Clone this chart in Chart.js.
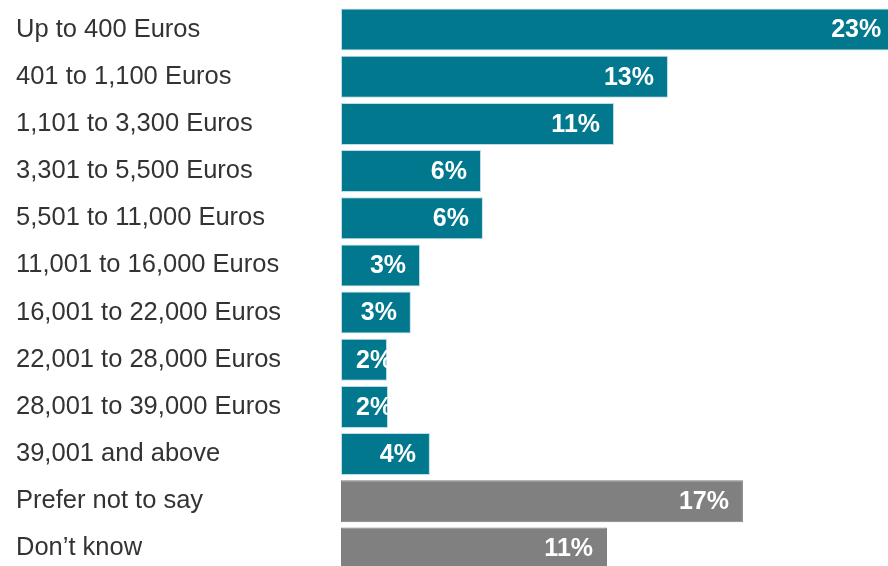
<!DOCTYPE html>
<html>
<head>
<meta charset="utf-8">
<script src="https://cdn.jsdelivr.net/npm/chart.js@4/dist/chart.umd.min.js"></script>
<style>
  html, body { margin: 0; padding: 0; background: #fff; overflow: hidden; }
  #wrap { width: 888px; height: 572px; }
</style>
</head>
<body>
<div id="wrap"><canvas id="incomeChart"></canvas></div>
<script>
const categories = [
  'Up to 400 Euros', '401 to 1,100 Euros', '1,101 to 3,300 Euros', '3,301 to 5,500 Euros',
  '5,501 to 11,000 Euros', '11,001 to 16,000 Euros', '16,001 to 22,000 Euros',
  '22,001 to 28,000 Euros', '28,001 to 39,000 Euros', '39,001 and above',
  'Prefer not to say', 'Don\u2019t know'
];
// bar lengths (percent)
const shares = [23.0, 13.57, 11.33, 5.81, 5.89, 3.28, 2.90, 1.91, 1.95, 3.69, 16.68, 11.04];
// the text printed on each bar
const shareLabels = ['23%', '13%', '11%', '6%', '6%', '3%', '3%', '2%', '2%', '4%', '17%', '11%'];
const isAnswer = [true, true, true, true, true, true, true, true, true, true, false, false];

const TEAL = '#02788f';
const GREY = '#808080';

const barText = {
  id: 'barText',
  afterDatasetsDraw(chart) {
    const ctx = chart.ctx;
    const meta = chart.getDatasetMeta(0);
    ctx.save();
    ctx.font = 'bold 25px "Liberation Sans", Arial, sans-serif';
    ctx.fillStyle = '#fff';
    ctx.textBaseline = 'middle';
    ctx.textAlign = 'left';
    meta.data.forEach((bar, i) => {
      const p = bar.getProps(['x', 'y', 'base', 'height'], true);
      const txt = shareLabels[i];
      const w = ctx.measureText(txt).width;
      const tx = Math.max(p.base + 15, p.x - 14 - w);
      ctx.save();
      ctx.beginPath();
      ctx.rect(p.base, p.y - p.height / 2, p.x - p.base, p.height);
      ctx.clip();
      ctx.fillText(txt, tx, p.y + 1);
      ctx.restore();
    });
    ctx.restore();
  }
};

new Chart(document.getElementById('incomeChart'), {
  type: 'bar',
  data: {
    labels: categories,
    datasets: [{
      data: shares,
      backgroundColor: isAnswer.map(a => a ? TEAL : GREY),
      borderColor: isAnswer.map(a => a ? '#bfdde6' : GREY),
      borderWidth: 1,
      borderSkipped: false,
      barPercentage: 0.89,
      categoryPercentage: 1
    }]
  },
  options: {
    indexAxis: 'y',
    responsive: true,
    maintainAspectRatio: false,
    animation: false,
    layout: { padding: { left: 16, top: 6, right: 0, bottom: 0 } },
    plugins: { legend: { display: false }, tooltip: { enabled: false } },
    scales: {
      x: { display: false, min: 0, max: 22.7 },
      y: {
        grid: { display: false },
        border: { display: false },
        ticks: {
          crossAlign: 'far',
          color: '#333',
          font: { family: '"Liberation Sans", Arial, sans-serif', size: 25.5 }
        },
        afterFit(scale) {
          scale.width = 325;
          scale.paddingTop = 0;
          scale.paddingBottom = 0;
        }
      }
    }
  },
  plugins: [barText]
});
</script>
</body>
</html>
